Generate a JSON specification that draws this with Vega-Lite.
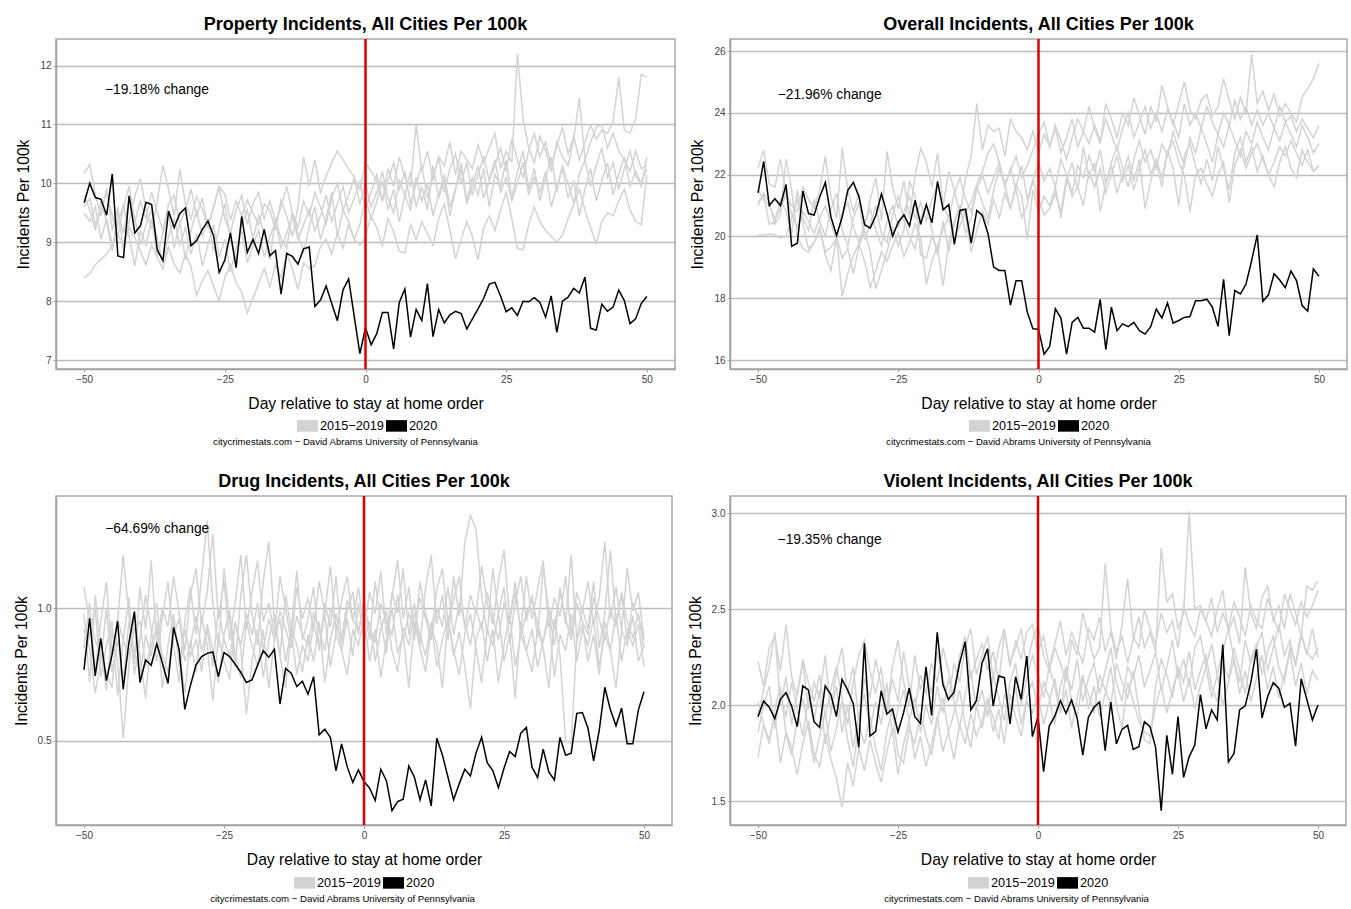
{
"$schema": "https://vega.github.io/schema/vega-lite/v6.json",
"background": "white",
"padding": {"left": 12, "top": 15, "right": 0, "bottom": 0},
"config": {
  "font": "Liberation Sans",
  "view": {"stroke": "#a8a8a8", "strokeWidth": 1.5},
  "title": {"font": "Liberation Sans", "fontSize": 18, "fontWeight": "bold", "anchor": "middle", "offset": 4, "frame": "group", "color": "#000000"},
  "axis": {"labelFont": "Liberation Sans", "labelFontSize": 10, "labelColor": "#444444", "tickColor": "#a0a0a0", "tickSize": 3, "labelPadding": 2, "domainColor": "#a0a0a0", "domainWidth": 1.5, "titleFont": "Liberation Sans", "titleFontSize": 15.7, "titleFontWeight": "normal", "titleColor": "#000000", "gridColor": "#bcbcbc", "gridWidth": 1.6},
  "axisX": {"grid": false, "titlePadding": 12},
  "axisY": {"titlePadding": 8},
  "legend": {"labelFont": "Liberation Sans", "labelFontSize": 12.7, "labelColor": "#000000", "padding": 0},
  "text": {"font": "Liberation Sans"}
},
"datasets": {
"prop": [
{"d":-50,"y15":8.40,"y16":10.17,"y17":9.50,"y18":9.80,"y19":9.60,"y20":9.67},
{"d":-49,"y15":8.47,"y16":10.32,"y17":9.35,"y18":9.55,"y19":9.75,"y20":10.0},
{"d":-48,"y15":8.62,"y16":9.80,"y17":9.60,"y18":9.20,"y19":9.30,"y20":9.76},
{"d":-47,"y15":8.71,"y16":9.45,"y17":9.05,"y18":9.70,"y19":9.55,"y20":9.73},
{"d":-46,"y15":8.80,"y16":9.92,"y17":9.40,"y18":9.35,"y19":9.85,"y20":9.46},
{"d":-45,"y15":8.95,"y16":9.20,"y17":8.95,"y18":8.85,"y19":9.45,"y20":10.16},
{"d":-44,"y15":9.12,"y16":9.60,"y17":9.30,"y18":9.50,"y19":9.10,"y20":8.77},
{"d":-43,"y15":8.98,"y16":8.85,"y17":9.65,"y18":9.15,"y19":9.60,"y20":8.74},
{"d":-42,"y15":9.25,"y16":9.35,"y17":9.10,"y18":9.75,"y19":9.95,"y20":9.79},
{"d":-41,"y15":9.08,"y16":9.78,"y17":8.60,"y18":9.40,"y19":9.35,"y20":9.16},
{"d":-40,"y15":8.85,"y16":10.08,"y17":9.20,"y18":8.95,"y19":9.70,"y20":9.28},
{"d":-39,"y15":8.62,"y16":9.55,"y17":8.95,"y18":9.30,"y19":9.40,"y20":9.68},
{"d":-38,"y15":8.95,"y16":9.22,"y17":9.40,"y18":9.55,"y19":9.85,"y20":9.64},
{"d":-37,"y15":8.74,"y16":9.70,"y17":8.75,"y18":9.05,"y19":9.50,"y20":8.87},
{"d":-36,"y15":8.55,"y16":10.30,"y17":9.15,"y18":8.65,"y19":9.20,"y20":8.69},
{"d":-35,"y15":8.92,"y16":9.90,"y17":9.50,"y18":9.10,"y19":9.65,"y20":9.53},
{"d":-34,"y15":8.63,"y16":9.45,"y17":8.90,"y18":9.40,"y19":9.80,"y20":9.25},
{"d":-33,"y15":8.48,"y16":10.24,"y17":9.35,"y18":8.95,"y19":9.30,"y20":9.49},
{"d":-32,"y15":8.80,"y16":9.65,"y17":8.70,"y18":9.25,"y19":9.55,"y20":9.58},
{"d":-31,"y15":8.58,"y16":9.40,"y17":9.20,"y18":8.80,"y19":9.90,"y20":8.94},
{"d":-30,"y15":8.10,"y16":9.78,"y17":9.55,"y18":9.15,"y19":9.45,"y20":9.03},
{"d":-29,"y15":8.35,"y16":9.55,"y17":9.10,"y18":8.60,"y19":9.75,"y20":9.22},
{"d":-28,"y15":8.52,"y16":9.25,"y17":9.40,"y18":8.95,"y19":9.25,"y20":9.36},
{"d":-27,"y15":8.26,"y16":9.60,"y17":8.85,"y18":9.30,"y19":9.60,"y20":9.11},
{"d":-26,"y15":8.00,"y16":9.95,"y17":9.25,"y18":8.75,"y19":9.95,"y20":8.49},
{"d":-25,"y15":8.40,"y16":9.82,"y17":9.65,"y18":9.05,"y19":9.40,"y20":8.70},
{"d":-24,"y15":8.62,"y16":9.38,"y17":9.05,"y18":8.50,"y19":9.15,"y20":9.16},
{"d":-23,"y15":8.32,"y16":9.70,"y17":8.70,"y18":8.90,"y19":9.55,"y20":8.57},
{"d":-22,"y15":8.15,"y16":9.45,"y17":9.30,"y18":9.20,"y19":9.80,"y20":9.44},
{"d":-21,"y15":7.80,"y16":9.72,"y17":9.55,"y18":8.65,"y19":9.30,"y20":8.83},
{"d":-20,"y15":8.05,"y16":9.50,"y17":9.05,"y18":8.95,"y19":9.65,"y20":9.05},
{"d":-19,"y15":8.30,"y16":9.30,"y17":9.45,"y18":9.20,"y19":9.85,"y20":8.81},
{"d":-18,"y15":8.55,"y16":9.65,"y17":9.15,"y18":8.75,"y19":9.40,"y20":9.22},
{"d":-17,"y15":8.25,"y16":9.55,"y17":8.70,"y18":9.10,"y19":9.70,"y20":8.77},
{"d":-16,"y15":8.62,"y16":9.20,"y17":9.40,"y18":9.35,"y19":9.35,"y20":8.86},
{"d":-15,"y15":8.40,"y16":9.72,"y17":9.05,"y18":8.90,"y19":9.60,"y20":8.12},
{"d":-14,"y15":8.80,"y16":9.45,"y17":8.90,"y18":9.15,"y19":9.95,"y20":8.81},
{"d":-13,"y15":8.55,"y16":9.10,"y17":9.50,"y18":9.45,"y19":9.50,"y20":8.76},
{"d":-12,"y15":8.20,"y16":9.60,"y17":9.15,"y18":9.05,"y19":9.25,"y20":8.63},
{"d":-11,"y15":8.65,"y16":10.45,"y17":8.85,"y18":9.30,"y19":9.70,"y20":8.89},
{"d":-10,"y15":8.55,"y16":9.95,"y17":9.25,"y18":9.55,"y19":9.45,"y20":8.92},
{"d":-9,"y15":8.60,"y16":10.40,"y17":9.60,"y18":9.20,"y19":9.85,"y20":7.91},
{"d":-8,"y15":8.92,"y16":9.85,"y17":9.05,"y18":9.45,"y19":9.60,"y20":8.02},
{"d":-7,"y15":9.05,"y16":10.12,"y17":9.40,"y18":9.80,"y19":9.30,"y20":8.26},
{"d":-6,"y15":8.80,"y16":10.35,"y17":9.85,"y18":9.35,"y19":9.75,"y20":7.96},
{"d":-5,"y15":9.15,"y16":10.55,"y17":9.10,"y18":9.65,"y19":10.00,"y20":7.67},
{"d":-4,"y15":8.90,"y16":10.40,"y17":9.55,"y18":9.95,"y19":9.55,"y20":8.19},
{"d":-3,"y15":9.30,"y16":10.25,"y17":9.35,"y18":9.50,"y19":9.80,"y20":8.38},
{"d":-2,"y15":9.05,"y16":10.10,"y17":9.05,"y18":9.75,"y19":10.10,"y20":7.74},
{"d":-1,"y15":8.95,"y16":9.90,"y17":9.30,"y18":10.05,"y19":9.65,"y20":7.11},
{"d":0,"y15":9.10,"y16":10.35,"y17":9.75,"y18":9.55,"y19":10.00,"y20":7.55},
{"d":1,"y15":9.45,"y16":10.20,"y17":9.40,"y18":9.85,"y19":9.60,"y20":7.26},
{"d":2,"y15":9.25,"y16":10.05,"y17":9.70,"y18":10.15,"y19":9.85,"y20":7.45},
{"d":3,"y15":8.95,"y16":9.70,"y17":10.05,"y18":9.70,"y19":10.20,"y20":7.81},
{"d":4,"y15":9.40,"y16":10.25,"y17":9.55,"y18":10.05,"y19":9.75,"y20":7.81},
{"d":5,"y15":9.18,"y16":9.95,"y17":9.90,"y18":10.35,"y19":9.50,"y20":7.19},
{"d":6,"y15":8.85,"y16":10.45,"y17":9.35,"y18":9.90,"y19":10.05,"y20":7.98},
{"d":7,"y15":8.82,"y16":10.10,"y17":9.80,"y18":10.20,"y19":9.80,"y20":8.21},
{"d":8,"y15":9.30,"y16":9.95,"y17":10.20,"y18":9.65,"y19":9.55,"y20":7.39},
{"d":9,"y15":9.05,"y16":11.00,"y17":9.60,"y18":10.00,"y19":10.10,"y20":7.86},
{"d":10,"y15":9.35,"y16":10.20,"y17":9.95,"y18":10.30,"y19":9.70,"y20":7.67},
{"d":11,"y15":9.15,"y16":10.55,"y17":9.55,"y18":9.75,"y19":10.00,"y20":8.30},
{"d":12,"y15":8.95,"y16":10.05,"y17":10.30,"y18":10.10,"y19":9.45,"y20":7.40},
{"d":13,"y15":9.40,"y16":10.45,"y17":9.75,"y18":10.45,"y19":9.80,"y20":7.86},
{"d":14,"y15":9.65,"y16":10.30,"y17":10.05,"y18":9.85,"y19":10.15,"y20":7.63},
{"d":15,"y15":9.20,"y16":10.70,"y17":9.45,"y18":10.25,"y19":9.60,"y20":7.77},
{"d":16,"y15":8.72,"y16":10.15,"y17":9.90,"y18":10.50,"y19":9.90,"y20":7.83},
{"d":17,"y15":9.05,"y16":10.55,"y17":10.35,"y18":10.00,"y19":10.25,"y20":7.79},
{"d":18,"y15":9.35,"y16":10.40,"y17":9.70,"y18":10.35,"y19":9.65,"y20":7.53},
{"d":19,"y15":9.10,"y16":10.25,"y17":10.10,"y18":9.80,"y19":9.95,"y20":7.70},
{"d":20,"y15":8.70,"y16":10.65,"y17":9.80,"y18":10.15,"y19":10.30,"y20":7.87},
{"d":21,"y15":9.25,"y16":10.35,"y17":10.25,"y18":10.45,"y19":9.75,"y20":8.05},
{"d":22,"y15":9.45,"y16":10.60,"y17":9.60,"y18":10.05,"y19":10.05,"y20":8.29},
{"d":23,"y15":9.20,"y16":10.85,"y17":10.15,"y18":10.30,"y19":10.40,"y20":8.32},
{"d":24,"y15":9.55,"y16":10.25,"y17":9.95,"y18":10.60,"y19":9.85,"y20":8.09},
{"d":25,"y15":9.85,"y16":10.55,"y17":10.40,"y18":10.20,"y19":10.10,"y20":7.82},
{"d":26,"y15":9.40,"y16":10.35,"y17":9.75,"y18":10.75,"y19":9.70,"y20":7.89},
{"d":27,"y15":8.90,"y16":12.20,"y17":10.20,"y18":10.40,"y19":10.00,"y20":7.76},
{"d":28,"y15":8.87,"y16":11.10,"y17":10.55,"y18":10.10,"y19":10.35,"y20":8.00},
{"d":29,"y15":9.30,"y16":10.60,"y17":9.90,"y18":10.55,"y19":9.80,"y20":7.99},
{"d":30,"y15":9.60,"y16":10.35,"y17":10.25,"y18":10.85,"y19":10.10,"y20":8.06},
{"d":31,"y15":9.35,"y16":10.80,"y17":9.70,"y18":10.45,"y19":9.85,"y20":7.98},
{"d":32,"y15":9.20,"y16":10.55,"y17":10.10,"y18":10.70,"y19":10.20,"y20":7.73},
{"d":33,"y15":9.10,"y16":10.20,"y17":10.45,"y18":10.30,"y19":9.60,"y20":8.09},
{"d":34,"y15":9.00,"y16":10.70,"y17":9.85,"y18":10.65,"y19":9.95,"y20":7.47},
{"d":35,"y15":9.12,"y16":10.45,"y17":10.30,"y18":10.95,"y19":10.25,"y20":8.00},
{"d":36,"y15":9.40,"y16":10.30,"y17":10.00,"y18":10.50,"y19":9.75,"y20":8.07},
{"d":37,"y15":9.65,"y16":10.75,"y17":9.65,"y18":10.80,"y19":10.05,"y20":8.22},
{"d":38,"y15":9.90,"y16":11.45,"y17":10.15,"y18":10.40,"y19":9.45,"y20":8.14},
{"d":39,"y15":9.55,"y16":10.40,"y17":10.40,"y18":10.70,"y19":9.90,"y20":8.41},
{"d":40,"y15":9.25,"y16":10.70,"y17":9.95,"y18":11.00,"y19":10.25,"y20":7.54},
{"d":41,"y15":8.97,"y16":10.95,"y17":10.30,"y18":10.75,"y19":9.70,"y20":7.51},
{"d":42,"y15":9.35,"y16":11.00,"y17":10.60,"y18":10.90,"y19":10.05,"y20":7.95},
{"d":43,"y15":9.50,"y16":10.60,"y17":10.10,"y18":10.85,"y19":10.35,"y20":7.83},
{"d":44,"y15":9.45,"y16":10.85,"y17":10.35,"y18":11.05,"y19":9.80,"y20":7.90},
{"d":45,"y15":9.70,"y16":10.55,"y17":9.90,"y18":11.80,"y19":10.15,"y20":8.19},
{"d":46,"y15":9.90,"y16":10.40,"y17":10.25,"y18":10.90,"y19":10.45,"y20":8.01},
{"d":47,"y15":9.55,"y16":10.20,"y17":10.55,"y18":10.85,"y19":9.95,"y20":7.62},
{"d":48,"y15":9.35,"y16":10.55,"y17":10.15,"y18":11.10,"y19":10.20,"y20":7.70},
{"d":49,"y15":9.30,"y16":10.25,"y17":9.95,"y18":11.85,"y19":10.00,"y20":7.96},
{"d":50,"y15":10.15,"y16":10.30,"y17":10.45,"y18":11.80,"y19":10.25,"y20":8.08}
],
"over": [
{"d":-50,"y15":20.05,"y16":22.20,"y17":21.10,"y18":21.50,"y19":21.00,"y20":21.41},
{"d":-49,"y15":20.05,"y16":22.80,"y17":21.35,"y18":21.20,"y19":21.40,"y20":22.43},
{"d":-48,"y15":20.08,"y16":21.70,"y17":20.40,"y18":21.00,"y19":21.10,"y20":21.00},
{"d":-47,"y15":20.06,"y16":21.60,"y17":20.45,"y18":20.60,"y19":20.40,"y20":21.22},
{"d":-46,"y15":19.95,"y16":22.50,"y17":21.20,"y18":20.90,"y19":20.70,"y20":21.00},
{"d":-45,"y15":20.00,"y16":21.40,"y17":20.80,"y18":21.40,"y19":22.50,"y20":21.68},
{"d":-44,"y15":20.60,"y16":21.00,"y17":20.10,"y18":20.70,"y19":21.50,"y20":19.68},
{"d":-43,"y15":21.20,"y16":20.80,"y17":21.50,"y18":20.30,"y19":20.00,"y20":19.78},
{"d":-42,"y15":20.40,"y16":21.60,"y17":20.60,"y18":20.80,"y19":19.60,"y20":21.47},
{"d":-41,"y15":19.60,"y16":21.20,"y17":20.20,"y18":20.50,"y19":19.50,"y20":20.74},
{"d":-40,"y15":19.80,"y16":20.90,"y17":21.20,"y18":20.10,"y19":19.80,"y20":20.69},
{"d":-39,"y15":20.20,"y16":21.50,"y17":20.50,"y18":20.60,"y19":20.30,"y20":21.28},
{"d":-38,"y15":19.50,"y16":22.60,"y17":20.00,"y18":21.00,"y19":19.40,"y20":21.75},
{"d":-37,"y15":19.65,"y16":21.30,"y17":20.90,"y18":20.40,"y19":18.90,"y20":20.63},
{"d":-36,"y15":19.95,"y16":20.60,"y17":21.40,"y18":19.90,"y19":20.00,"y20":20.03},
{"d":-35,"y15":18.05,"y16":22.85,"y17":20.20,"y18":20.70,"y19":19.30,"y20":20.63},
{"d":-34,"y15":18.80,"y16":21.50,"y17":19.70,"y18":21.10,"y19":19.60,"y20":21.49},
{"d":-33,"y15":19.40,"y16":20.80,"y17":20.60,"y18":20.30,"y19":18.80,"y20":21.75},
{"d":-32,"y15":19.75,"y16":21.40,"y17":21.10,"y18":19.80,"y19":19.70,"y20":21.28},
{"d":-31,"y15":19.20,"y16":20.30,"y17":19.90,"y18":20.40,"y19":20.20,"y20":20.38},
{"d":-30,"y15":18.35,"y16":21.20,"y17":20.40,"y18":20.90,"y19":19.50,"y20":20.27},
{"d":-29,"y15":18.90,"y16":21.90,"y17":21.00,"y18":20.20,"y19":18.30,"y20":20.68},
{"d":-28,"y15":19.50,"y16":20.50,"y17":20.10,"y18":19.70,"y19":18.90,"y20":21.38},
{"d":-27,"y15":19.20,"y16":22.75,"y17":19.80,"y18":20.50,"y19":19.50,"y20":20.74},
{"d":-26,"y15":19.70,"y16":21.60,"y17":20.70,"y18":21.00,"y19":20.30,"y20":20.01},
{"d":-25,"y15":20.10,"y16":20.90,"y17":21.30,"y18":20.30,"y19":19.70,"y20":20.46},
{"d":-24,"y15":19.35,"y16":21.80,"y17":20.50,"y18":20.80,"y19":20.20,"y20":20.70},
{"d":-23,"y15":19.80,"y16":20.60,"y17":20.00,"y18":21.30,"y19":21.80,"y20":20.34},
{"d":-22,"y15":20.40,"y16":22.00,"y17":19.60,"y18":20.60,"y19":21.30,"y20":21.17},
{"d":-21,"y15":19.95,"y16":22.85,"y17":20.60,"y18":21.10,"y19":19.40,"y20":20.39},
{"d":-20,"y15":18.45,"y16":22.40,"y17":21.00,"y18":20.50,"y19":19.30,"y20":21.03},
{"d":-19,"y15":19.20,"y16":21.60,"y17":20.20,"y18":21.20,"y19":20.00,"y20":20.44},
{"d":-18,"y15":19.70,"y16":22.70,"y17":19.40,"y18":21.70,"y19":19.60,"y20":21.78},
{"d":-17,"y15":20.25,"y16":21.00,"y17":20.50,"y18":21.00,"y19":18.40,"y20":20.86},
{"d":-16,"y15":20.60,"y16":22.10,"y17":19.50,"y18":20.60,"y19":19.80,"y20":21.03},
{"d":-15,"y15":19.90,"y16":21.50,"y17":20.40,"y18":21.40,"y19":20.50,"y20":19.74},
{"d":-14,"y15":20.35,"y16":20.70,"y17":21.00,"y18":21.90,"y19":21.00,"y20":20.84},
{"d":-13,"y15":20.80,"y16":21.90,"y17":20.10,"y18":21.20,"y19":20.70,"y20":20.88},
{"d":-12,"y15":21.10,"y16":22.60,"y17":20.60,"y18":20.80,"y19":19.50,"y20":19.78},
{"d":-11,"y15":21.70,"y16":24.30,"y17":21.60,"y18":21.50,"y19":20.20,"y20":20.84},
{"d":-10,"y15":22.10,"y16":22.80,"y17":21.10,"y18":22.00,"y19":20.80,"y20":20.68},
{"d":-9,"y15":22.70,"y16":23.60,"y17":20.60,"y18":21.40,"y19":20.40,"y20":20.09},
{"d":-8,"y15":23.00,"y16":23.40,"y17":21.50,"y18":21.90,"y19":21.20,"y20":19.01},
{"d":-7,"y15":22.40,"y16":23.50,"y17":22.20,"y18":22.40,"y19":20.60,"y20":18.90},
{"d":-6,"y15":21.60,"y16":22.60,"y17":21.70,"y18":21.70,"y19":21.40,"y20":18.90},
{"d":-5,"y15":22.20,"y16":23.80,"y17":20.90,"y18":22.10,"y19":20.90,"y20":17.78},
{"d":-4,"y15":21.50,"y16":23.40,"y17":21.60,"y18":22.60,"y19":21.70,"y20":18.57},
{"d":-3,"y15":20.60,"y16":23.20,"y17":22.30,"y18":21.90,"y19":21.30,"y20":18.57},
{"d":-2,"y15":21.00,"y16":22.80,"y17":21.20,"y18":22.30,"y19":19.90,"y20":17.55},
{"d":-1,"y15":21.80,"y16":23.40,"y17":21.80,"y18":22.80,"y19":21.50,"y20":17.01},
{"d":0,"y15":21.20,"y16":22.70,"y17":22.40,"y18":23.30,"y19":20.80,"y20":17.00},
{"d":1,"y15":20.70,"y16":23.30,"y17":21.80,"y18":23.70,"y19":21.30,"y20":16.19},
{"d":2,"y15":20.90,"y16":22.90,"y17":22.20,"y18":22.90,"y19":21.00,"y20":16.44},
{"d":3,"y15":21.40,"y16":23.60,"y17":21.60,"y18":23.50,"y19":21.60,"y20":17.66},
{"d":4,"y15":20.80,"y16":23.10,"y17":22.50,"y18":22.70,"y19":20.60,"y20":17.36},
{"d":5,"y15":21.90,"y16":22.50,"y17":22.00,"y18":23.20,"y19":21.80,"y20":16.19},
{"d":6,"y15":21.30,"y16":23.20,"y17":21.40,"y18":23.80,"y19":22.40,"y20":17.22},
{"d":7,"y15":21.60,"y16":23.80,"y17":22.30,"y18":22.90,"y19":21.50,"y20":17.38},
{"d":8,"y15":21.00,"y16":23.40,"y17":21.90,"y18":23.40,"y19":22.90,"y20":17.03},
{"d":9,"y15":22.10,"y16":24.20,"y17":22.60,"y18":23.00,"y19":21.90,"y20":17.03},
{"d":10,"y15":21.60,"y16":23.50,"y17":22.10,"y18":23.60,"y19":22.40,"y20":16.90},
{"d":11,"y15":22.20,"y16":23.00,"y17":22.80,"y18":23.10,"y19":20.80,"y20":17.96},
{"d":12,"y15":21.40,"y16":24.30,"y17":21.70,"y18":23.80,"y19":21.70,"y20":16.34},
{"d":13,"y15":22.00,"y16":23.80,"y17":22.40,"y18":23.30,"y19":22.30,"y20":17.71},
{"d":14,"y15":22.60,"y16":23.20,"y17":22.90,"y18":22.80,"y19":21.40,"y20":16.95},
{"d":15,"y15":21.80,"y16":24.00,"y17":22.20,"y18":23.50,"y19":22.00,"y20":17.17},
{"d":16,"y15":22.30,"y16":23.60,"y17":21.60,"y18":24.00,"y19":22.60,"y20":17.08},
{"d":17,"y15":21.50,"y16":24.50,"y17":22.50,"y18":23.20,"y19":21.80,"y20":17.22},
{"d":18,"y15":22.20,"y16":23.90,"y17":23.10,"y18":23.70,"y19":22.50,"y20":16.95},
{"d":19,"y15":22.80,"y16":23.30,"y17":22.40,"y18":24.20,"y19":20.90,"y20":16.84},
{"d":20,"y15":22.00,"y16":24.20,"y17":22.80,"y18":23.50,"y19":21.80,"y20":17.08},
{"d":21,"y15":22.50,"y16":23.70,"y17":22.20,"y18":24.00,"y19":22.40,"y20":17.65},
{"d":22,"y15":21.90,"y16":24.90,"y17":23.00,"y18":23.40,"y19":21.60,"y20":17.36},
{"d":23,"y15":22.70,"y16":24.20,"y17":22.60,"y18":24.10,"y19":22.80,"y20":17.85},
{"d":24,"y15":23.10,"y16":23.60,"y17":23.40,"y18":23.70,"y19":22.20,"y20":17.19},
{"d":25,"y15":22.40,"y16":24.30,"y17":22.80,"y18":23.20,"y19":21.00,"y20":17.28},
{"d":26,"y15":22.00,"y16":25.00,"y17":22.30,"y18":24.30,"y19":22.60,"y20":17.38},
{"d":27,"y15":20.80,"y16":24.10,"y17":23.20,"y18":23.60,"y19":23.00,"y20":17.41},
{"d":28,"y15":22.00,"y16":23.80,"y17":22.70,"y18":24.00,"y19":22.30,"y20":17.92},
{"d":29,"y15":22.20,"y16":24.40,"y17":23.50,"y18":23.50,"y19":21.70,"y20":17.92},
{"d":30,"y15":21.70,"y16":24.60,"y17":23.00,"y18":24.20,"y19":22.50,"y20":17.97},
{"d":31,"y15":21.30,"y16":23.90,"y17":22.40,"y18":23.70,"y19":21.80,"y20":17.71},
{"d":32,"y15":22.00,"y16":24.20,"y17":23.30,"y18":23.30,"y19":22.90,"y20":17.09},
{"d":33,"y15":22.40,"y16":25.10,"y17":22.90,"y18":24.00,"y19":22.20,"y20":18.61},
{"d":34,"y15":21.10,"y16":24.40,"y17":23.60,"y18":23.60,"y19":21.50,"y20":16.79},
{"d":35,"y15":22.30,"y16":23.80,"y17":23.10,"y18":24.40,"y19":22.70,"y20":18.25},
{"d":36,"y15":22.80,"y16":24.50,"y17":22.60,"y18":23.80,"y19":23.20,"y20":18.14},
{"d":37,"y15":22.20,"y16":24.00,"y17":23.40,"y18":24.20,"y19":22.40,"y20":18.46},
{"d":38,"y15":22.70,"y16":25.90,"y17":23.00,"y18":23.60,"y19":22.90,"y20":19.22},
{"d":39,"y15":23.00,"y16":24.30,"y17":23.70,"y18":24.10,"y19":22.10,"y20":20.05},
{"d":40,"y15":22.50,"y16":24.70,"y17":23.20,"y18":23.60,"y19":22.60,"y20":17.90},
{"d":41,"y15":22.00,"y16":24.10,"y17":22.80,"y18":24.00,"y19":22.00,"y20":18.11},
{"d":42,"y15":22.40,"y16":24.60,"y17":23.50,"y18":23.50,"y19":21.60,"y20":18.79},
{"d":43,"y15":22.90,"y16":23.90,"y17":23.10,"y18":24.20,"y19":22.40,"y20":18.59},
{"d":44,"y15":22.60,"y16":24.30,"y17":23.70,"y18":23.70,"y19":22.90,"y20":18.34},
{"d":45,"y15":23.10,"y16":24.00,"y17":23.30,"y18":23.90,"y19":22.20,"y20":18.88},
{"d":46,"y15":22.70,"y16":23.70,"y17":22.90,"y18":23.40,"y19":21.90,"y20":18.57},
{"d":47,"y15":22.30,"y16":24.50,"y17":23.60,"y18":23.80,"y19":22.80,"y20":17.76},
{"d":48,"y15":22.80,"y16":24.80,"y17":23.20,"y18":23.50,"y19":22.40,"y20":17.58},
{"d":49,"y15":22.10,"y16":25.10,"y17":22.70,"y18":23.20,"y19":22.10,"y20":18.95},
{"d":50,"y15":22.30,"y16":25.60,"y17":23.00,"y18":23.60,"y19":22.30,"y20":18.71}
],
"drug": [
{"d":-50,"y15":1.08,"y16":0.98,"y17":0.85,"y18":0.92,"y19":0.80,"y20":0.768},
{"d":-49,"y15":0.95,"y16":0.72,"y17":1.02,"y18":0.85,"y19":0.90,"y20":0.962},
{"d":-48,"y15":0.88,"y16":1.05,"y17":0.76,"y18":0.68,"y19":1.00,"y20":0.745},
{"d":-47,"y15":0.82,"y16":0.85,"y17":0.95,"y18":0.80,"y19":0.74,"y20":0.886},
{"d":-46,"y15":0.76,"y16":0.69,"y17":1.10,"y18":1.00,"y19":0.86,"y20":0.727},
{"d":-45,"y15":0.70,"y16":0.92,"y17":0.82,"y18":0.76,"y19":0.95,"y20":0.824},
{"d":-44,"y15":0.95,"y16":0.80,"y17":0.96,"y18":0.88,"y19":0.67,"y20":0.951},
{"d":-43,"y15":1.20,"y16":0.51,"y17":0.88,"y18":0.72,"y19":0.88,"y20":0.695},
{"d":-42,"y15":0.98,"y16":0.78,"y17":1.04,"y18":0.95,"y19":0.82,"y20":0.868},
{"d":-41,"y15":0.75,"y16":0.98,"y17":0.79,"y18":0.84,"y19":0.92,"y20":0.987},
{"d":-40,"y15":0.88,"y16":0.82,"y17":1.08,"y18":0.74,"y19":0.95,"y20":0.720},
{"d":-39,"y15":1.05,"y16":0.66,"y17":0.92,"y18":0.90,"y19":0.78,"y20":0.805},
{"d":-38,"y15":0.92,"y16":0.90,"y17":1.18,"y18":0.82,"y19":0.86,"y20":0.785},
{"d":-37,"y15":0.80,"y16":1.02,"y17":0.87,"y18":0.95,"y19":0.92,"y20":0.866},
{"d":-36,"y15":0.97,"y16":0.78,"y17":1.00,"y18":0.70,"y19":0.82,"y20":0.793},
{"d":-35,"y15":1.10,"y16":0.72,"y17":0.93,"y18":0.86,"y19":0.76,"y20":0.717},
{"d":-34,"y15":0.86,"y16":0.95,"y17":1.12,"y18":0.98,"y19":0.90,"y20":0.928},
{"d":-33,"y15":0.72,"y16":0.84,"y17":0.98,"y18":0.78,"y19":0.96,"y20":0.843},
{"d":-32,"y15":0.95,"y16":0.68,"y17":0.84,"y18":0.92,"y19":0.80,"y20":0.619},
{"d":-31,"y15":1.08,"y16":0.88,"y17":1.05,"y18":0.82,"y19":0.86,"y20":0.709},
{"d":-30,"y15":0.90,"y16":0.76,"y17":1.15,"y18":0.88,"y19":0.97,"y20":0.786},
{"d":-29,"y15":1.12,"y16":0.97,"y17":0.94,"y18":0.76,"y19":0.84,"y20":0.818},
{"d":-28,"y15":1.33,"y16":0.86,"y17":1.06,"y18":0.94,"y19":0.92,"y20":0.830},
{"d":-27,"y15":1.02,"y16":0.65,"y17":1.28,"y18":0.84,"y19":0.78,"y20":0.835},
{"d":-26,"y15":0.85,"y16":0.90,"y17":0.96,"y18":0.72,"y19":1.00,"y20":0.742},
{"d":-25,"y15":1.15,"y16":0.80,"y17":1.10,"y18":0.90,"y19":0.88,"y20":0.833},
{"d":-24,"y15":0.96,"y16":0.73,"y17":0.88,"y18":0.99,"y19":0.82,"y20":0.818},
{"d":-23,"y15":0.78,"y16":0.95,"y17":1.02,"y18":0.82,"y19":0.94,"y20":0.789},
{"d":-22,"y15":1.05,"y16":0.85,"y17":1.20,"y18":0.74,"y19":0.86,"y20":0.758},
{"d":-21,"y15":1.20,"y16":0.60,"y17":0.92,"y18":0.95,"y19":0.98,"y20":0.720},
{"d":-20,"y15":0.98,"y16":0.80,"y17":1.06,"y18":0.86,"y19":0.90,"y20":0.730},
{"d":-19,"y15":0.86,"y16":0.92,"y17":1.18,"y18":0.78,"y19":1.02,"y20":0.785},
{"d":-18,"y15":1.10,"y16":0.74,"y17":0.95,"y18":0.92,"y19":0.84,"y20":0.840},
{"d":-17,"y15":1.25,"y16":0.88,"y17":1.02,"y18":0.70,"y19":0.96,"y20":0.815},
{"d":-16,"y15":0.95,"y16":0.98,"y17":0.90,"y18":0.88,"y19":0.88,"y20":0.845},
{"d":-15,"y15":0.82,"y16":0.82,"y17":1.12,"y18":0.96,"y19":0.99,"y20":0.639},
{"d":-14,"y15":1.05,"y16":0.70,"y17":1.00,"y18":0.80,"y19":0.92,"y20":0.773},
{"d":-13,"y15":0.92,"y16":0.93,"y17":0.87,"y18":0.92,"y19":0.85,"y20":0.755},
{"d":-12,"y15":1.14,"y16":0.86,"y17":1.08,"y18":0.75,"y19":0.97,"y20":0.705},
{"d":-11,"y15":0.88,"y16":0.76,"y17":0.96,"y18":0.86,"y19":0.90,"y20":0.725},
{"d":-10,"y15":0.96,"y16":0.90,"y17":1.04,"y18":0.80,"y19":0.86,"y20":0.676},
{"d":-9,"y15":1.08,"y16":0.80,"y17":0.92,"y18":0.94,"y19":0.98,"y20":0.742},
{"d":-8,"y15":0.84,"y16":0.95,"y17":1.10,"y18":0.85,"y19":0.92,"y20":0.523},
{"d":-7,"y15":1.02,"y16":0.72,"y17":0.98,"y18":0.98,"y19":0.84,"y20":0.544},
{"d":-6,"y15":0.93,"y16":0.88,"y17":1.16,"y18":0.78,"y19":1.00,"y20":0.513},
{"d":-5,"y15":1.12,"y16":0.98,"y17":0.90,"y18":0.90,"y19":0.94,"y20":0.387},
{"d":-4,"y15":0.87,"y16":0.84,"y17":1.03,"y18":0.84,"y19":0.88,"y20":0.489},
{"d":-3,"y15":0.99,"y16":0.75,"y17":1.12,"y18":0.96,"y19":1.03,"y20":0.403},
{"d":-2,"y15":1.06,"y16":0.92,"y17":0.95,"y18":0.82,"y19":0.96,"y20":0.343},
{"d":-1,"y15":0.90,"y16":0.86,"y17":1.08,"y18":1.02,"y19":0.92,"y20":0.391},
{"d":0,"y15":1.04,"y16":0.97,"y17":0.92,"y18":0.88,"y19":1.00,"y20":0.347},
{"d":1,"y15":0.88,"y16":0.80,"y17":1.06,"y18":0.95,"y19":0.93,"y20":0.322},
{"d":2,"y15":1.10,"y16":0.92,"y17":0.98,"y18":0.80,"y19":0.87,"y20":0.275},
{"d":3,"y15":0.95,"y16":0.74,"y17":1.14,"y18":0.92,"y19":1.02,"y20":0.393},
{"d":4,"y15":0.83,"y16":0.88,"y17":0.90,"y18":0.99,"y19":0.95,"y20":0.350},
{"d":5,"y15":1.06,"y16":1.00,"y17":1.04,"y18":0.84,"y19":0.90,"y20":0.237},
{"d":6,"y15":0.98,"y16":0.83,"y17":1.18,"y18":0.76,"y19":1.05,"y20":0.271},
{"d":7,"y15":1.15,"y16":0.90,"y17":0.96,"y18":0.93,"y19":0.88,"y20":0.280},
{"d":8,"y15":0.90,"y16":0.70,"y17":1.08,"y18":0.86,"y19":0.98,"y20":0.406},
{"d":9,"y15":1.02,"y16":0.95,"y17":0.88,"y18":0.98,"y19":0.92,"y20":0.363},
{"d":10,"y15":0.86,"y16":0.85,"y17":1.10,"y18":0.90,"y19":1.04,"y20":0.278},
{"d":11,"y15":1.08,"y16":0.76,"y17":0.98,"y18":0.82,"y19":0.96,"y20":0.353},
{"d":12,"y15":1.20,"y16":0.93,"y17":0.90,"y18":0.95,"y19":0.88,"y20":0.255},
{"d":13,"y15":0.94,"y16":0.86,"y17":1.07,"y18":0.78,"y19":1.00,"y20":0.510},
{"d":14,"y15":1.05,"y16":0.70,"y17":1.15,"y18":0.88,"y19":0.93,"y20":0.447},
{"d":15,"y15":0.88,"y16":0.97,"y17":0.95,"y18":0.96,"y19":1.08,"y20":0.363},
{"d":16,"y15":1.12,"y16":0.82,"y17":1.03,"y18":0.84,"y19":0.90,"y20":0.278},
{"d":17,"y15":0.97,"y16":0.91,"y17":1.12,"y18":0.75,"y19":1.02,"y20":0.338},
{"d":18,"y15":1.25,"y16":0.78,"y17":0.92,"y18":0.90,"y19":0.95,"y20":0.393},
{"d":19,"y15":1.35,"y16":0.62,"y17":1.05,"y18":0.98,"y19":0.86,"y20":0.368},
{"d":20,"y15":1.30,"y16":0.88,"y17":0.98,"y18":0.85,"y19":1.00,"y20":0.454},
{"d":21,"y15":1.05,"y16":0.95,"y17":1.16,"y18":0.72,"y19":0.92,"y20":0.514},
{"d":22,"y15":0.90,"y16":0.80,"y17":1.02,"y18":0.92,"y19":1.06,"y20":0.418},
{"d":23,"y15":1.15,"y16":0.92,"y17":0.94,"y18":0.86,"y19":0.97,"y20":0.388},
{"d":24,"y15":0.98,"y16":0.72,"y17":1.10,"y18":0.98,"y19":0.88,"y20":0.324},
{"d":25,"y15":1.08,"y16":0.86,"y17":1.22,"y18":0.80,"y19":1.02,"y20":0.397},
{"d":26,"y15":0.87,"y16":0.98,"y17":0.96,"y18":0.90,"y19":0.94,"y20":0.460},
{"d":27,"y15":1.02,"y16":0.78,"y17":1.06,"y18":0.66,"y19":1.10,"y20":0.441},
{"d":28,"y15":1.12,"y16":0.90,"y17":0.92,"y18":0.95,"y19":0.90,"y20":0.529},
{"d":29,"y15":0.95,"y16":0.84,"y17":1.12,"y18":0.84,"y19":0.98,"y20":0.551},
{"d":30,"y15":1.05,"y16":0.76,"y17":0.96,"y18":0.92,"y19":1.03,"y20":0.401},
{"d":31,"y15":0.89,"y16":0.92,"y17":1.07,"y18":0.78,"y19":0.94,"y20":0.362},
{"d":32,"y15":1.15,"y16":0.85,"y17":1.18,"y18":0.88,"y19":0.87,"y20":0.469},
{"d":33,"y15":0.99,"y16":0.70,"y17":0.93,"y18":0.96,"y19":1.00,"y20":0.383},
{"d":34,"y15":0.86,"y16":0.96,"y17":1.04,"y18":0.74,"y19":0.92,"y20":0.353},
{"d":35,"y15":1.08,"y16":0.82,"y17":0.97,"y18":0.90,"y19":1.06,"y20":0.513},
{"d":36,"y15":0.94,"y16":0.50,"y17":1.12,"y18":0.84,"y19":0.96,"y20":0.446},
{"d":37,"y15":1.20,"y16":0.49,"y17":0.90,"y18":0.98,"y19":0.88,"y20":0.454},
{"d":38,"y15":0.88,"y16":0.88,"y17":1.06,"y18":0.80,"y19":1.02,"y20":0.604},
{"d":39,"y15":1.00,"y16":0.94,"y17":0.99,"y18":0.92,"y19":0.95,"y20":0.607},
{"d":40,"y15":0.92,"y16":0.80,"y17":1.10,"y18":0.86,"y19":0.90,"y20":0.548},
{"d":41,"y15":1.10,"y16":0.90,"y17":0.94,"y18":0.96,"y19":1.04,"y20":0.425},
{"d":42,"y15":0.85,"y16":0.75,"y17":1.04,"y18":0.78,"y19":0.96,"y20":0.539},
{"d":43,"y15":0.98,"y16":0.95,"y17":1.25,"y18":0.90,"y19":0.88,"y20":0.702},
{"d":44,"y15":1.22,"y16":0.84,"y17":0.96,"y18":0.84,"y19":1.00,"y20":0.617},
{"d":45,"y15":0.94,"y16":0.70,"y17":1.08,"y18":0.98,"y19":0.93,"y20":0.557},
{"d":46,"y15":1.05,"y16":0.92,"y17":0.92,"y18":0.80,"y19":1.06,"y20":0.624},
{"d":47,"y15":0.88,"y16":0.86,"y17":1.15,"y18":0.92,"y19":0.95,"y20":0.489},
{"d":48,"y15":1.02,"y16":0.97,"y17":0.99,"y18":0.86,"y19":0.89,"y20":0.489},
{"d":49,"y15":0.96,"y16":0.80,"y17":1.06,"y18":0.94,"y19":0.98,"y20":0.617},
{"d":50,"y15":0.90,"y16":0.86,"y17":0.88,"y18":0.78,"y19":0.85,"y20":0.685}
],
"viol": [
{"d":-50,"y15":1.73,"y16":2.23,"y17":1.86,"y18":2.02,"y19":1.95,"y20":1.941},
{"d":-49,"y15":1.90,"y16":2.10,"y17":2.00,"y18":1.90,"y19":2.08,"y20":2.023},
{"d":-48,"y15":1.82,"y16":2.30,"y17":2.10,"y18":1.80,"y19":2.20,"y20":1.990},
{"d":-47,"y15":1.95,"y16":2.36,"y17":1.88,"y18":1.98,"y19":2.38,"y20":1.931},
{"d":-46,"y15":1.70,"y16":2.18,"y17":2.06,"y18":2.10,"y19":2.00,"y20":2.031},
{"d":-45,"y15":1.86,"y16":2.42,"y17":1.94,"y18":1.85,"y19":2.15,"y20":2.066},
{"d":-44,"y15":1.78,"y16":2.15,"y17":2.12,"y18":1.74,"y19":1.90,"y20":1.997},
{"d":-43,"y15":1.64,"y16":2.05,"y17":1.98,"y18":1.92,"y19":2.06,"y20":1.889},
{"d":-42,"y15":1.80,"y16":2.24,"y17":1.84,"y18":2.04,"y19":2.22,"y20":2.101},
{"d":-41,"y15":1.92,"y16":2.12,"y17":2.04,"y18":1.88,"y19":1.98,"y20":2.080},
{"d":-40,"y15":1.75,"y16":2.02,"y17":1.92,"y18":1.70,"y19":2.12,"y20":1.915},
{"d":-39,"y15":1.68,"y16":2.16,"y17":2.08,"y18":1.84,"y19":2.04,"y20":1.885},
{"d":-38,"y15":1.85,"y16":1.94,"y17":1.80,"y18":1.96,"y19":2.26,"y20":2.101},
{"d":-37,"y15":1.72,"y16":2.08,"y17":1.96,"y18":1.76,"y19":1.96,"y20":2.056},
{"d":-36,"y15":1.62,"y16":2.20,"y17":2.10,"y18":1.88,"y19":2.18,"y20":1.941},
{"d":-35,"y15":1.47,"y16":2.04,"y17":1.86,"y18":2.02,"y19":2.30,"y20":2.135},
{"d":-34,"y15":1.70,"y16":1.90,"y17":2.00,"y18":1.82,"y19":2.06,"y20":2.080},
{"d":-33,"y15":1.58,"y16":2.12,"y17":1.78,"y18":1.68,"y19":2.20,"y20":2.010},
{"d":-32,"y15":1.78,"y16":2.26,"y17":1.94,"y18":1.90,"y19":1.92,"y20":1.781},
{"d":-31,"y15":1.66,"y16":2.34,"y17":2.06,"y18":1.80,"y19":2.14,"y20":2.323},
{"d":-30,"y15":1.82,"y16":2.18,"y17":1.88,"y18":1.94,"y19":2.04,"y20":1.840},
{"d":-29,"y15":1.70,"y16":2.06,"y17":2.02,"y18":1.78,"y19":2.24,"y20":1.863},
{"d":-28,"y15":1.60,"y16":2.20,"y17":1.90,"y18":1.66,"y19":2.10,"y20":2.075},
{"d":-27,"y15":1.76,"y16":1.96,"y17":2.12,"y18":1.86,"y19":1.98,"y20":1.955},
{"d":-26,"y15":1.88,"y16":2.14,"y17":1.84,"y18":1.98,"y19":2.20,"y20":1.981},
{"d":-25,"y15":1.64,"y16":2.02,"y17":1.98,"y18":1.74,"y19":2.34,"y20":1.861},
{"d":-24,"y15":1.80,"y16":2.28,"y17":2.08,"y18":1.70,"y19":2.12,"y20":1.962},
{"d":-23,"y15":1.92,"y16":2.10,"y17":1.92,"y18":1.88,"y19":2.00,"y20":2.089},
{"d":-22,"y15":1.72,"y16":1.98,"y17":2.04,"y18":1.80,"y19":2.26,"y20":1.941},
{"d":-21,"y15":1.84,"y16":2.16,"y17":1.86,"y18":1.96,"y19":2.08,"y20":1.906},
{"d":-20,"y15":1.68,"y16":2.06,"y17":2.00,"y18":1.84,"y19":2.18,"y20":2.201},
{"d":-19,"y15":1.80,"y16":2.22,"y17":1.90,"y18":1.74,"y19":2.06,"y20":1.948},
{"d":-18,"y15":1.94,"y16":2.12,"y17":2.10,"y18":1.92,"y19":2.28,"y20":2.380},
{"d":-17,"y15":1.76,"y16":2.30,"y17":1.96,"y18":2.04,"y19":2.14,"y20":2.111},
{"d":-16,"y15":1.86,"y16":2.18,"y17":2.14,"y18":1.86,"y19":2.02,"y20":2.031},
{"d":-15,"y15":1.72,"y16":2.04,"y17":2.02,"y18":1.96,"y19":2.22,"y20":2.069},
{"d":-14,"y15":1.90,"y16":2.26,"y17":1.88,"y18":2.08,"y19":2.12,"y20":2.219},
{"d":-13,"y15":1.80,"y16":2.36,"y17":2.06,"y18":1.90,"y19":2.30,"y20":2.332},
{"d":-12,"y15":1.96,"y16":2.14,"y17":2.18,"y18":1.78,"y19":2.40,"y20":1.976},
{"d":-11,"y15":1.84,"y16":2.24,"y17":1.98,"y18":2.00,"y19":2.16,"y20":2.024},
{"d":-10,"y15":1.92,"y16":2.32,"y17":2.08,"y18":1.88,"y19":2.26,"y20":2.219},
{"d":-9,"y15":2.04,"y16":2.18,"y17":1.94,"y18":2.02,"y19":2.36,"y20":2.295},
{"d":-8,"y15":1.86,"y16":2.28,"y17":2.16,"y18":1.94,"y19":2.14,"y20":1.997},
{"d":-7,"y15":1.98,"y16":2.12,"y17":2.04,"y18":1.82,"y19":2.30,"y20":2.153},
{"d":-6,"y15":1.80,"y16":2.38,"y17":1.92,"y18":2.06,"y19":2.40,"y20":2.144},
{"d":-5,"y15":2.06,"y16":2.22,"y17":2.12,"y18":1.98,"y19":2.20,"y20":1.903},
{"d":-4,"y15":1.94,"y16":2.30,"y17":2.22,"y18":2.10,"y19":2.34,"y20":2.149},
{"d":-3,"y15":1.84,"y16":2.40,"y17":2.00,"y18":1.90,"y19":2.24,"y20":2.031},
{"d":-2,"y15":2.02,"y16":2.20,"y17":2.14,"y18":2.04,"y19":2.38,"y20":2.257},
{"d":-1,"y15":1.96,"y16":2.34,"y17":2.26,"y18":2.12,"y19":2.42,"y20":1.837},
{"d":0,"y15":2.06,"y16":2.42,"y17":2.16,"y18":1.98,"y19":2.28,"y20":1.941},
{"d":1,"y15":1.90,"y16":2.26,"y17":2.04,"y18":2.12,"y19":2.36,"y20":1.655},
{"d":2,"y15":2.02,"y16":2.18,"y17":2.20,"y18":2.04,"y19":2.20,"y20":1.892},
{"d":3,"y15":2.14,"y16":2.30,"y17":2.10,"y18":1.90,"y19":2.32,"y20":1.944},
{"d":4,"y15":1.96,"y16":2.22,"y17":1.96,"y18":2.10,"y19":2.44,"y20":2.024},
{"d":5,"y15":2.08,"y16":2.12,"y17":2.18,"y18":2.20,"y19":2.26,"y20":1.958},
{"d":6,"y15":1.88,"y16":2.34,"y17":2.08,"y18":2.02,"y19":2.38,"y20":2.028},
{"d":7,"y15":2.04,"y16":2.26,"y17":2.24,"y18":1.94,"y19":2.30,"y20":1.932},
{"d":8,"y15":2.16,"y16":2.48,"y17":2.02,"y18":2.14,"y19":2.22,"y20":1.741},
{"d":9,"y15":1.98,"y16":2.36,"y17":2.14,"y18":2.06,"y19":2.40,"y20":1.938},
{"d":10,"y15":2.10,"y16":2.24,"y17":2.22,"y18":1.96,"y19":2.34,"y20":1.990},
{"d":11,"y15":1.94,"y16":2.30,"y17":2.06,"y18":2.16,"y19":2.46,"y20":2.017},
{"d":12,"y15":2.06,"y16":2.74,"y17":2.18,"y18":2.08,"y19":2.28,"y20":1.764},
{"d":13,"y15":2.20,"y16":2.40,"y17":2.30,"y18":2.00,"y19":2.38,"y20":2.017},
{"d":14,"y15":2.00,"y16":2.28,"y17":2.12,"y18":2.22,"y19":2.24,"y20":1.799},
{"d":15,"y15":1.88,"y16":2.36,"y17":2.02,"y18":2.12,"y19":2.42,"y20":1.875},
{"d":16,"y15":2.12,"y16":2.22,"y17":2.20,"y18":2.04,"y19":2.66,"y20":1.896},
{"d":17,"y15":2.02,"y16":2.34,"y17":2.14,"y18":2.18,"y19":2.36,"y20":1.771},
{"d":18,"y15":1.92,"y16":2.46,"y17":2.26,"y18":1.98,"y19":2.30,"y20":1.785},
{"d":19,"y15":1.86,"y16":2.30,"y17":2.10,"y18":1.82,"y19":2.50,"y20":1.915},
{"d":20,"y15":1.84,"y16":2.38,"y17":2.18,"y18":1.80,"y19":2.40,"y20":1.889},
{"d":21,"y15":2.00,"y16":2.28,"y17":2.28,"y18":2.10,"y19":2.32,"y20":1.781},
{"d":22,"y15":2.10,"y16":2.82,"y17":2.08,"y18":2.24,"y19":2.48,"y20":1.451},
{"d":23,"y15":1.96,"y16":2.54,"y17":2.20,"y18":2.16,"y19":2.38,"y20":1.844},
{"d":24,"y15":2.08,"y16":2.58,"y17":2.34,"y18":2.04,"y19":2.44,"y20":1.641},
{"d":25,"y15":2.18,"y16":2.40,"y17":2.14,"y18":2.20,"y19":2.30,"y20":1.941},
{"d":26,"y15":2.02,"y16":2.48,"y17":2.24,"y18":2.12,"y19":2.52,"y20":1.625},
{"d":27,"y15":2.14,"y16":3.01,"y17":2.10,"y18":2.28,"y19":2.42,"y20":1.733},
{"d":28,"y15":1.98,"y16":2.50,"y17":2.30,"y18":2.08,"y19":2.36,"y20":1.793},
{"d":29,"y15":2.10,"y16":2.52,"y17":2.36,"y18":2.18,"y19":2.50,"y20":2.056},
{"d":30,"y15":2.20,"y16":2.44,"y17":2.20,"y18":2.26,"y19":2.44,"y20":1.878},
{"d":31,"y15":2.04,"y16":2.36,"y17":2.32,"y18":2.10,"y19":2.56,"y20":1.976},
{"d":32,"y15":2.16,"y16":2.50,"y17":2.16,"y18":2.02,"y19":2.38,"y20":1.924},
{"d":33,"y15":2.00,"y16":2.60,"y17":2.28,"y18":2.22,"y19":2.48,"y20":2.316},
{"d":34,"y15":2.12,"y16":2.38,"y17":2.40,"y18":2.14,"y19":2.40,"y20":1.705},
{"d":35,"y15":2.24,"y16":2.46,"y17":2.24,"y18":2.30,"y19":2.54,"y20":1.750},
{"d":36,"y15":2.06,"y16":2.32,"y17":2.12,"y18":2.18,"y19":2.46,"y20":1.976},
{"d":37,"y15":2.18,"y16":2.72,"y17":2.34,"y18":2.06,"y19":2.36,"y20":1.997},
{"d":38,"y15":2.02,"y16":2.48,"y17":2.22,"y18":2.24,"y19":2.52,"y20":2.118},
{"d":39,"y15":2.14,"y16":2.40,"y17":2.30,"y18":2.32,"y19":2.44,"y20":2.292},
{"d":40,"y15":2.26,"y16":2.56,"y17":2.38,"y18":2.16,"y19":2.40,"y20":1.934},
{"d":41,"y15":2.08,"y16":2.62,"y17":2.18,"y18":2.28,"y19":2.56,"y20":2.045},
{"d":42,"y15":2.20,"y16":2.44,"y17":2.30,"y18":2.36,"y19":2.46,"y20":2.118},
{"d":43,"y15":2.04,"y16":2.52,"y17":2.42,"y18":2.20,"y19":2.38,"y20":2.089},
{"d":44,"y15":2.16,"y16":2.40,"y17":2.26,"y18":2.12,"y19":2.58,"y20":1.990},
{"d":45,"y15":2.28,"y16":2.58,"y17":2.34,"y18":2.30,"y19":2.50,"y20":2.010},
{"d":46,"y15":2.10,"y16":2.48,"y17":2.20,"y18":2.22,"y19":2.42,"y20":1.788},
{"d":47,"y15":2.22,"y16":2.36,"y17":2.36,"y18":2.38,"y19":2.54,"y20":2.139},
{"d":48,"y15":2.06,"y16":2.62,"y17":2.28,"y18":2.26,"y19":2.46,"y20":2.031},
{"d":49,"y15":2.18,"y16":2.60,"y17":2.24,"y18":2.40,"y19":2.52,"y20":1.924},
{"d":50,"y15":2.13,"y16":2.65,"y17":2.30,"y18":2.25,"y19":2.60,"y20":2.002}
]
},
"vconcat": [
{"hconcat": [
 {"vconcat": [{
   "title": {"text": "Property Incidents, All Cities Per 100k"},
   "width": 619, "height": 330,
   "data": {"name": "prop"},
   "layer": [
    {"transform": [{"fold": ["y15","y16","y17","y18","y19"], "as": ["yr","v"]}],
     "mark": {"type": "line", "strokeWidth": 1.5},
     "encoding": {
      "x": {"field": "d", "type": "quantitative", "scale": {"domain": [-55,55], "nice": false, "zero": false}, "axis": {"values": [-50,-25,0,25,50], "title": "Day relative to stay at home order"}},
      "y": {"field": "v", "type": "quantitative", "scale": {"domain": [6.85,12.45], "nice": false, "zero": false}, "axis": {"values": [7,8,9,10,11,12], "format": "d", "title": "Incidents Per 100k"}},
      "detail": {"field": "yr"},
      "color": {"datum": "2015−2019", "scale": {"domain": ["2015−2019","2020"], "range": ["#d3d3d3","#000000"]},
        "legend": {"orient": "none", "legendX": 241, "legendY": 376, "direction": "horizontal", "title": null, "symbolType": "M-1,-0.55H1V0.55H-1Z", "symbolSize": 441, "labelOffset": 2, "columnPadding": 2,
          "encode": {"symbols": {"update": {"fill": {"signal": "datum.value === '2020' ? '#000000' : '#d3d3d3'"}, "fillOpacity": {"value": 1}, "strokeWidth": {"value": 0}}}}}}
     }},
    {"mark": {"type": "line", "strokeWidth": 1.5},
     "encoding": {"x": {"field": "d", "type": "quantitative"}, "y": {"field": "y20", "type": "quantitative"}, "color": {"datum": "2020"}}},
    {"data": {"values": [{"d": 0}]}, "mark": {"type": "rule", "color": "#dd0000", "strokeWidth": 2.5}, "encoding": {"x": {"field": "d", "type": "quantitative"}}},
    {"data": {"values": [{"d": -46.3, "v": 11.59, "t": "−19.18% change"}]}, "mark": {"type": "text", "align": "left", "baseline": "middle", "fontSize": 13.8, "color": "#000000"},
     "encoding": {"x": {"field": "d", "type": "quantitative"}, "y": {"field": "v", "type": "quantitative"}, "text": {"field": "t"}}}
   ]
 }],
 "title": {"text": "citycrimestats.com −  David Abrams University of Pennsylvania", "orient": "bottom", "fontSize": 9.6, "fontWeight": "normal", "offset": 3, "frame": "bounds", "anchor": "middle"},
 "resolve": {"scale": {"x": "independent", "y": "independent", "color": "independent"}, "legend": {"color": "independent"}}
 },
 {"vconcat": [{
   "title": {"text": "Overall Incidents, All Cities Per 100k"},
   "width": 617, "height": 330,
   "data": {"name": "over"},
   "layer": [
    {"transform": [{"fold": ["y15","y16","y17","y18","y19"], "as": ["yr","v"]}],
     "mark": {"type": "line", "strokeWidth": 1.5},
     "encoding": {
      "x": {"field": "d", "type": "quantitative", "scale": {"domain": [-55,55], "nice": false, "zero": false}, "axis": {"values": [-50,-25,0,25,50], "title": "Day relative to stay at home order"}},
      "y": {"field": "v", "type": "quantitative", "scale": {"domain": [15.71,26.39], "nice": false, "zero": false}, "axis": {"values": [16,18,20,22,24,26], "format": "d", "title": "Incidents Per 100k"}},
      "detail": {"field": "yr"},
      "color": {"datum": "2015−2019", "scale": {"domain": ["2015−2019","2020"], "range": ["#d3d3d3","#000000"]},
        "legend": {"orient": "none", "legendX": 239, "legendY": 376, "direction": "horizontal", "title": null, "symbolType": "M-1,-0.55H1V0.55H-1Z", "symbolSize": 441, "labelOffset": 2, "columnPadding": 2,
          "encode": {"symbols": {"update": {"fill": {"signal": "datum.value === '2020' ? '#000000' : '#d3d3d3'"}, "fillOpacity": {"value": 1}, "strokeWidth": {"value": 0}}}}}}
     }},
    {"mark": {"type": "line", "strokeWidth": 1.5},
     "encoding": {"x": {"field": "d", "type": "quantitative"}, "y": {"field": "y20", "type": "quantitative"}, "color": {"datum": "2020"}}},
    {"data": {"values": [{"d": 0}]}, "mark": {"type": "rule", "color": "#dd0000", "strokeWidth": 2.5}, "encoding": {"x": {"field": "d", "type": "quantitative"}}},
    {"data": {"values": [{"d": -46.5, "v": 24.57, "t": "−21.96% change"}]}, "mark": {"type": "text", "align": "left", "baseline": "middle", "fontSize": 13.8, "color": "#000000"},
     "encoding": {"x": {"field": "d", "type": "quantitative"}, "y": {"field": "v", "type": "quantitative"}, "text": {"field": "t"}}}
   ]
 }],
 "title": {"text": "citycrimestats.com −  David Abrams University of Pennsylvania", "orient": "bottom", "fontSize": 9.6, "fontWeight": "normal", "offset": 3, "frame": "bounds", "anchor": "middle"},
 "resolve": {"scale": {"x": "independent", "y": "independent", "color": "independent"}, "legend": {"color": "independent"}}
 }
],
"spacing": 13,
"resolve": {"scale": {"x": "independent", "y": "independent", "color": "independent"}, "legend": {"color": "independent"}}
},
{"hconcat": [
 {"vconcat": [{
   "title": {"text": "Drug Incidents, All Cities Per 100k"},
   "width": 616, "height": 329,
   "data": {"name": "drug"},
   "layer": [
    {"transform": [{"fold": ["y15","y16","y17","y18","y19"], "as": ["yr","v"]}],
     "mark": {"type": "line", "strokeWidth": 1.5},
     "encoding": {
      "x": {"field": "d", "type": "quantitative", "scale": {"domain": [-55,55], "nice": false, "zero": false}, "axis": {"values": [-50,-25,0,25,50], "title": "Day relative to stay at home order"}},
      "y": {"field": "v", "type": "quantitative", "scale": {"domain": [0.183,1.423], "nice": false, "zero": false}, "axis": {"values": [0.5,1.0], "format": ".1f", "title": "Incidents Per 100k"}},
      "detail": {"field": "yr"},
      "color": {"datum": "2015−2019", "scale": {"domain": ["2015−2019","2020"], "range": ["#d3d3d3","#000000"]},
        "legend": {"orient": "none", "legendX": 238, "legendY": 376, "direction": "horizontal", "title": null, "symbolType": "M-1,-0.55H1V0.55H-1Z", "symbolSize": 441, "labelOffset": 2, "columnPadding": 2,
          "encode": {"symbols": {"update": {"fill": {"signal": "datum.value === '2020' ? '#000000' : '#d3d3d3'"}, "fillOpacity": {"value": 1}, "strokeWidth": {"value": 0}}}}}}
     }},
    {"mark": {"type": "line", "strokeWidth": 1.5},
     "encoding": {"x": {"field": "d", "type": "quantitative"}, "y": {"field": "y20", "type": "quantitative"}, "color": {"datum": "2020"}}},
    {"data": {"values": [{"d": 0}]}, "mark": {"type": "rule", "color": "#dd0000", "strokeWidth": 2.5}, "encoding": {"x": {"field": "d", "type": "quantitative"}}},
    {"data": {"values": [{"d": -46.2, "v": 1.299, "t": "−64.69% change"}]}, "mark": {"type": "text", "align": "left", "baseline": "middle", "fontSize": 13.8, "color": "#000000"},
     "encoding": {"x": {"field": "d", "type": "quantitative"}, "y": {"field": "v", "type": "quantitative"}, "text": {"field": "t"}}}
   ]
 }],
 "title": {"text": "citycrimestats.com −  David Abrams University of Pennsylvania", "orient": "bottom", "fontSize": 9.6, "fontWeight": "normal", "offset": 3, "frame": "bounds", "anchor": "middle"},
 "resolve": {"scale": {"x": "independent", "y": "independent", "color": "independent"}, "legend": {"color": "independent"}}
 },
 {"vconcat": [{
   "title": {"text": "Violent Incidents, All Cities Per 100k"},
   "width": 616, "height": 329,
   "data": {"name": "viol"},
   "layer": [
    {"transform": [{"fold": ["y15","y16","y17","y18","y19"], "as": ["yr","v"]}],
     "mark": {"type": "line", "strokeWidth": 1.5},
     "encoding": {
      "x": {"field": "d", "type": "quantitative", "scale": {"domain": [-55,55], "nice": false, "zero": false}, "axis": {"values": [-50,-25,0,25,50], "title": "Day relative to stay at home order"}},
      "y": {"field": "v", "type": "quantitative", "scale": {"domain": [1.377,3.09], "nice": false, "zero": false}, "axis": {"values": [1.5,2.0,2.5,3.0], "format": ".1f", "title": "Incidents Per 100k"}},
      "detail": {"field": "yr"},
      "color": {"datum": "2015−2019", "scale": {"domain": ["2015−2019","2020"], "range": ["#d3d3d3","#000000"]},
        "legend": {"orient": "none", "legendX": 238, "legendY": 376, "direction": "horizontal", "title": null, "symbolType": "M-1,-0.55H1V0.55H-1Z", "symbolSize": 441, "labelOffset": 2, "columnPadding": 2,
          "encode": {"symbols": {"update": {"fill": {"signal": "datum.value === '2020' ? '#000000' : '#d3d3d3'"}, "fillOpacity": {"value": 1}, "strokeWidth": {"value": 0}}}}}}
     }},
    {"mark": {"type": "line", "strokeWidth": 1.5},
     "encoding": {"x": {"field": "d", "type": "quantitative"}, "y": {"field": "y20", "type": "quantitative"}, "color": {"datum": "2020"}}},
    {"data": {"values": [{"d": 0}]}, "mark": {"type": "rule", "color": "#dd0000", "strokeWidth": 2.5}, "encoding": {"x": {"field": "d", "type": "quantitative"}}},
    {"data": {"values": [{"d": -46.5, "v": 2.861, "t": "−19.35% change"}]}, "mark": {"type": "text", "align": "left", "baseline": "middle", "fontSize": 13.8, "color": "#000000"},
     "encoding": {"x": {"field": "d", "type": "quantitative"}, "y": {"field": "v", "type": "quantitative"}, "text": {"field": "t"}}}
   ]
 }],
 "title": {"text": "citycrimestats.com −  David Abrams University of Pennsylvania", "orient": "bottom", "fontSize": 9.6, "fontWeight": "normal", "offset": 3, "frame": "bounds", "anchor": "middle"},
 "resolve": {"scale": {"x": "independent", "y": "independent", "color": "independent"}, "legend": {"color": "independent"}}
 }
],
"spacing": 13,
"resolve": {"scale": {"x": "independent", "y": "independent", "color": "independent"}, "legend": {"color": "independent"}}
}
],
"spacing": 25,
"resolve": {"scale": {"x": "independent", "y": "independent", "color": "independent"}, "legend": {"color": "independent"}}
}
